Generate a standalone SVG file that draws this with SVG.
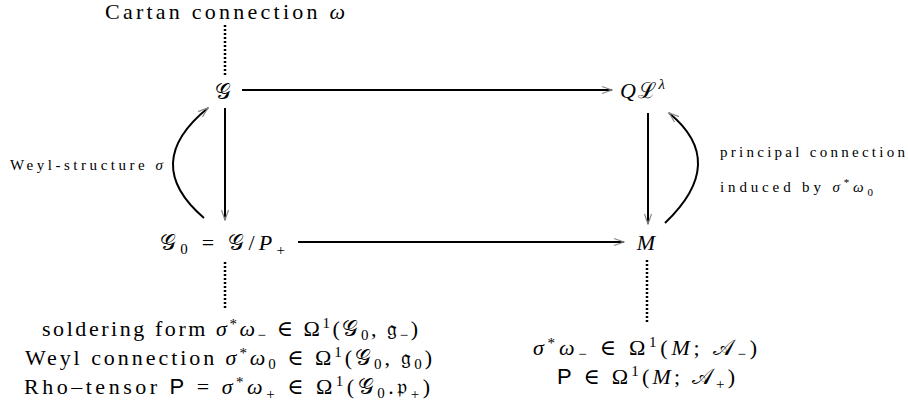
<svg xmlns="http://www.w3.org/2000/svg" width="908" height="417" viewBox="0 0 908 417">
<style>
text{font-family:"Liberation Serif","DejaVu Serif",serif;fill:#000}
.big{font-size:22px}
.sm{font-size:15px}
.it{font-style:italic}
.sf{font-family:"Liberation Sans","DejaVu Sans",sans-serif}
.edge{fill:none;stroke:#000;stroke-width:2}
.dot{fill:none;stroke:#000;stroke-width:2.5;stroke-dasharray:2 2}
.sub{font-size:15px}
</style>
<defs>
<marker id="ah" viewBox="0 0 12 10" refX="11" refY="5" markerWidth="12" markerHeight="10" markerUnits="userSpaceOnUse" orient="auto">
<path d="M1,1.5 L11,5 L1,8.5" fill="none" stroke="#888" stroke-width="1.2"/>
</marker>
</defs>
<g id="connectors">
<line class="dot" x1="225" y1="25" x2="225" y2="76"/>
<line class="edge" x1="242" y1="90" x2="612" y2="90" marker-end="url(#ah)"/>
<line class="edge" x1="225" y1="108" x2="225" y2="220" marker-end="url(#ah)"/>
<path class="edge" d="M204,218 Q140,163 208,108" marker-end="url(#ah)"/>
<line class="edge" x1="298" y1="242" x2="624" y2="242" marker-end="url(#ah)"/>
<line class="edge" x1="648" y1="113" x2="648" y2="224" marker-end="url(#ah)"/>
<path class="edge" d="M665,223 Q729,162 669,113" marker-end="url(#ah)"/>
<line class="dot" x1="225" y1="262" x2="225" y2="310"/>
<line class="dot" x1="647" y1="260" x2="647" y2="323"/>
</g>
<g id="cartan"><text class="big" x="105" y="19" textLength="240" lengthAdjust="spacing">Cartan connection <tspan class="it">ω</tspan></text></g>
<g id="G"><text class="big" x="223" y="99" text-anchor="middle">𝒢</text></g>
<g id="QL"><text class="big" x="620" y="98" textLength="45" lengthAdjust="spacing"><tspan class="it">Q</tspan>ℒ<tspan dy="-9" class="it" font-size="15">λ</tspan></text></g>
<g id="weyl"><text class="sm" x="10" y="170" textLength="153" lengthAdjust="spacing">Weyl-structure <tspan class="it">σ</tspan></text></g>
<g id="principal"><text class="sm" x="720" y="157" textLength="185" lengthAdjust="spacing">principal connection</text><text class="sm" x="720" y="192" textLength="153" lengthAdjust="spacing">induced by <tspan class="it">σ</tspan><tspan dy="-6" font-size="11">*</tspan><tspan dy="6" class="it">ω</tspan><tspan dy="4" font-size="11">0</tspan></text></g>
<g id="G0"><text class="big" x="160" y="250" textLength="125" lengthAdjust="spacing">𝒢<tspan class="sub" dy="4">0</tspan><tspan dy="-4"> = </tspan>𝒢/<tspan class="it">P</tspan><tspan class="sub" dy="5">+</tspan></text></g>
<g id="M"><text class="big it" x="646" y="250" text-anchor="middle">M</text></g>
<g id="leftinfo">
<text class="big" x="42" y="336" textLength="376" lengthAdjust="spacing">soldering form <tspan class="it">σ</tspan><tspan dy="-7" class="sub">*</tspan><tspan dy="7" class="it">ω</tspan><tspan dy="4" class="sub">−</tspan><tspan dy="-4"> ∈ Ω</tspan><tspan dy="-8" class="sub">1</tspan><tspan dy="8">(𝒢</tspan><tspan dy="4" class="sub">0</tspan><tspan dy="-4">, 𝔤</tspan><tspan dy="4" class="sub">−</tspan><tspan dy="-4">)</tspan></text>
<text class="big" x="25" y="365" textLength="407" lengthAdjust="spacing">Weyl connection <tspan class="it">σ</tspan><tspan dy="-7" class="sub">*</tspan><tspan dy="7" class="it">ω</tspan><tspan dy="4" class="sub">0</tspan><tspan dy="-4"> ∈ Ω</tspan><tspan dy="-8" class="sub">1</tspan><tspan dy="8">(𝒢</tspan><tspan dy="4" class="sub">0</tspan><tspan dy="-4">, 𝔤</tspan><tspan dy="4" class="sub">0</tspan><tspan dy="-4">)</tspan></text>
<text class="big" x="24" y="394" textLength="406" lengthAdjust="spacing">Rho–tensor <tspan class="sf">P</tspan> = <tspan class="it">σ</tspan><tspan dy="-7" class="sub">*</tspan><tspan dy="7" class="it">ω</tspan><tspan dy="5" class="sub">+</tspan><tspan dy="-5"> ∈ Ω</tspan><tspan dy="-8" class="sub">1</tspan><tspan dy="8">(𝒢</tspan><tspan dy="4" class="sub">0</tspan><tspan dy="-4">.𝔭</tspan><tspan dy="5" class="sub">+</tspan><tspan dy="-5">)</tspan></text>
</g>
<g id="rightinfo">
<text class="big" x="533" y="355" textLength="224" lengthAdjust="spacing"><tspan class="it">σ</tspan><tspan dy="-7" class="sub">*</tspan><tspan dy="7" class="it">ω</tspan><tspan dy="4" class="sub">−</tspan><tspan dy="-4"> ∈ Ω</tspan><tspan dy="-8" class="sub">1</tspan><tspan dy="8">(</tspan><tspan class="it">M</tspan>; 𝒜<tspan dy="4" class="sub">−</tspan><tspan dy="-4">)</tspan></text>
<text class="big" x="557" y="384" textLength="178" lengthAdjust="spacing"><tspan class="sf">P</tspan> ∈ Ω<tspan dy="-8" class="sub">1</tspan><tspan dy="8">(</tspan><tspan class="it">M</tspan>; 𝒜<tspan dy="5" class="sub">+</tspan><tspan dy="-5">)</tspan></text>
</g>
</svg>
